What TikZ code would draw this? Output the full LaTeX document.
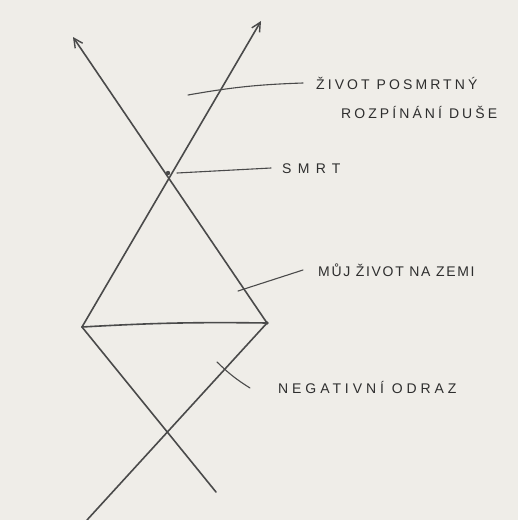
\documentclass[tikz,border=0pt]{standalone}
\usepackage{fontspec}
\setmainfont{Liberation Sans}
\usetikzlibrary{arrows.meta}
\definecolor{paper}{HTML}{EFEDE8}
\definecolor{pencil}{HTML}{4A4A4A}
\definecolor{ink}{HTML}{2E2E2E}
\tikzset{
  stroke/.style={draw=pencil, line width=1.6pt, line cap=round},
  leader/.style={draw=pencil, line width=1.1pt, line cap=round},
  arr/.style={stroke, -{Straight Barb[length=9pt,width=9pt,line width=1.4pt]}},
  lbl/.style={anchor=west, inner sep=0pt, text=ink, align=left,
    font=\fontsize{14}{20}\selectfont\addfontfeatures{LetterSpace=#1}},
  lbl/.default=20
}
\begin{document}
\begin{tikzpicture}[x=1pt,y=-1pt]
\fill[paper] (0,0) rectangle (518,520);
\useasboundingbox (0,0) rectangle (518,520);
% key points
\coordinate (tipL) at (73,37);
\coordinate (tipR) at (261,21);
\coordinate (vL) at (82,327);
\coordinate (vR) at (267,323);
\coordinate (death) at (168,173);
\coordinate (endL) at (216,492);
\coordinate (endR) at (87,520);
% main lines
\draw[arr] (vR) -- (tipL);
\draw[arr] (vL) -- (tipR);
\draw[stroke] (vL) to[bend left=2] (vR);
\draw[stroke] (vL) -- (endL);
\draw[stroke] (vR) -- (endR);
\fill[pencil] (death) circle (2.2pt);
\fill[pencil] (vR) circle (1.8pt);
% labels
\node[lbl=22] (t1) at (316,83) {ŽIVOT POSMRTNÝ};
\node[lbl=22] (t2) at (341,112) {ROZPÍNÁNÍ DUŠE};
\node[lbl=45] (t3) at (282,169) {SMRT};
\node[lbl=12] (t4) at (318,270) {MŮJ ŽIVOT NA ZEMI};
\node[lbl=28] (t5) at (278,387) {NEGATIVNÍ ODRAZ};
% leaders
\coordinate (a1) at (188,95);
\coordinate (b1) at (303,83);
\draw[leader] (a1) to[bend left=4] (b1);
\coordinate (a2) at (177,173);
\coordinate (b2) at (271,168);
\draw[leader] (a2) -- (b2);
\coordinate (a3) at (238,291);
\coordinate (b3) at (303,270);
\draw[leader] (a3) -- (b3);
\coordinate (a4) at (217,362);
\coordinate (b4) at (250,388);
\draw[leader] (a4) to[bend right=6] (b4);
\end{tikzpicture}
\end{document}
